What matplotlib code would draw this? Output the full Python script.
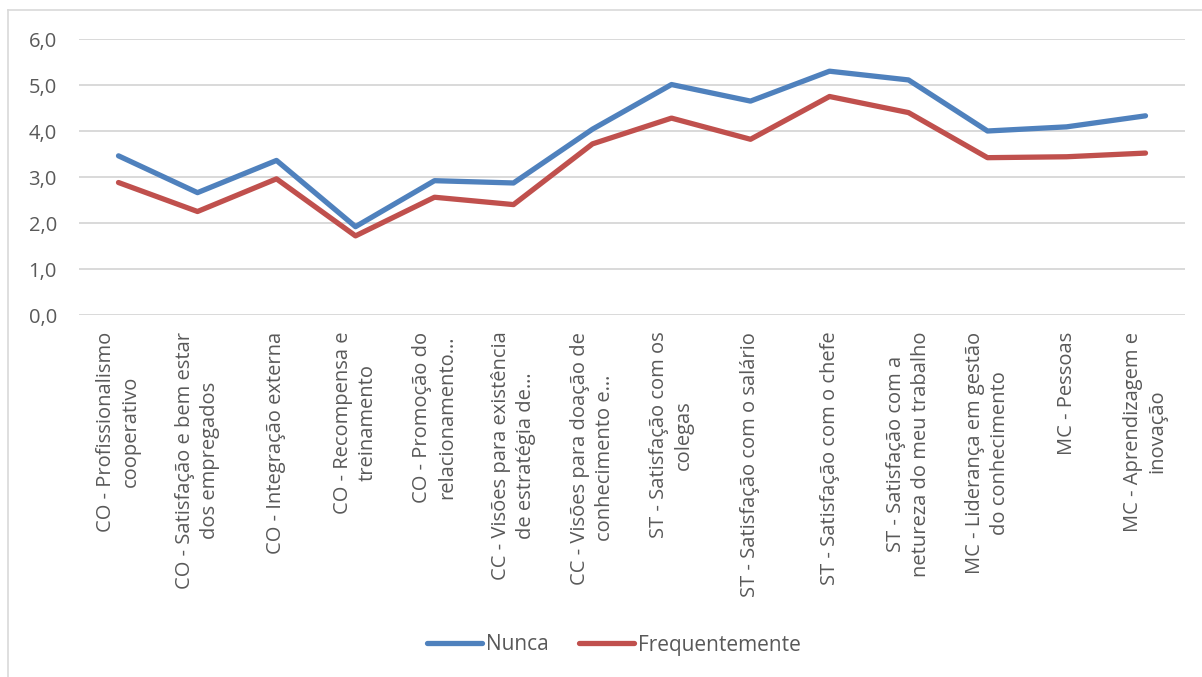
import matplotlib
matplotlib.use("Agg")
import matplotlib.pyplot as plt
from matplotlib.lines import Line2D

categories = [
    "CO - Profissionalismo\ncooperativo",
    "CO - Satisfação e bem estar\ndos empregados",
    "CO - Integração externa",
    "CO - Recompensa e\ntreinamento",
    "CO - Promoção do\nrelacionamento…",
    "CC - Visões para existência\nde estratégia de…",
    "CC - Visões para doação de\nconhecimento e…",
    "ST - Satisfação com os\ncolegas",
    "ST - Satisfação com o salário",
    "ST - Satisfação com o chefe",
    "ST - Satisfação com a\nnetureza do meu trabalho",
    "MC - Liderança em gestão\ndo conhecimento",
    "MC - Pessoas",
    "MC - Aprendizagem e\ninovação",
]
nunca = [3.46, 2.66, 3.36, 1.92, 2.92, 2.87, 4.04, 5.01, 4.65, 5.30, 5.11, 4.00, 4.09, 4.33]
frequentemente = [2.88, 2.25, 2.96, 1.72, 2.56, 2.40, 3.72, 4.28, 3.82, 4.75, 4.40, 3.42, 3.44, 3.52]
y_ticks = [0, 1, 2, 3, 4, 5, 6]

plt.rcParams["font.family"] = ["Open Sans", "DejaVu Sans"]
text_color = "#595959"
fs = 14.5

fig = plt.figure(figsize=(12.02, 6.77), dpi=100)
ax = fig.add_axes([79 / 1202, 1 - 315 / 677, (1185 - 79) / 1202, (315 - 39) / 677])

x = list(range(len(categories)))
ax.plot(x, nunca, color="#4F81BD", lw=3.8, solid_capstyle="round",
        solid_joinstyle="round", label="Nunca")
ax.plot(x, frequentemente, color="#C0504D", lw=3.8, solid_capstyle="round",
        solid_joinstyle="round", label="Frequentemente")

ax.set_xlim(-0.5, len(categories) - 0.5)
ax.set_ylim(0, 6)
ax.set_yticks(y_ticks)
ax.set_yticklabels([f"{v:.1f}".replace(".", ",") for v in y_ticks],
                   fontsize=fs, color=text_color)
ax.set_xticks(x)
ax.set_xticklabels(categories, rotation=90, fontsize=fs, color=text_color,
                   multialignment="center", linespacing=1.3)
ax.tick_params(axis="both", length=0)
ax.tick_params(axis="x", pad=12)
ax.tick_params(axis="y", pad=16)

ax.grid(axis="y", color="#D9D9D9", lw=1.4)
ax.set_axisbelow(True)
for s in ax.spines.values():
    s.set_visible(False)

leg = fig.legend(loc="center", bbox_to_anchor=(614 / 1202, 1 - 645 / 677), ncol=2,
                 frameon=False, fontsize=15, handlelength=2.65,
                 handletextpad=0.2, columnspacing=1.45)
for t in leg.get_texts():
    t.set_color(text_color)

# Chart frame
fig.add_artist(Line2D([8 / 1202, 1], [1 - 10 / 677, 1 - 10 / 677],
                      transform=fig.transFigure, color="#D9D9D9", lw=1.2))
fig.add_artist(Line2D([8 / 1202, 8 / 1202], [0, 1 - 10 / 677],
                      transform=fig.transFigure, color="#D9D9D9", lw=1.2))

fig.savefig("out.png", dpi=100, facecolor="white")
